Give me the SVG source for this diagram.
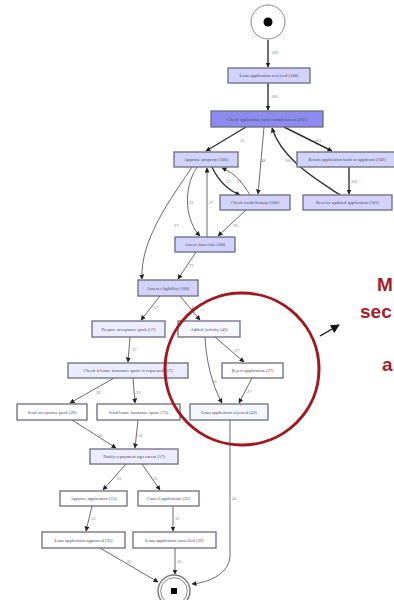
<svg xmlns="http://www.w3.org/2000/svg" width="394" height="600" viewBox="0 0 394 600">
  <defs>
    <marker id="ah" viewBox="0 0 10 10" refX="9" refY="5" markerWidth="5" markerHeight="5" orient="auto" markerUnits="userSpaceOnUse">
      <path d="M0,0 L10,5 L0,10 z" fill="#222"/>
    </marker>
    <marker id="ahBig" viewBox="0 0 10 10" refX="9" refY="5" markerWidth="9" markerHeight="9" orient="auto" markerUnits="userSpaceOnUse">
      <path d="M0,0 L10,5 L0,10 z" fill="#111"/>
    </marker>
    <style>
      .box { stroke: #6c6c80; stroke-width: 1.3; }
      .t { font-family: "Liberation Serif", serif; font-size: 4.6px; fill: #4a4a66; text-anchor: middle; }
      .lbl { font-family: "Liberation Serif", serif; font-size: 4.4px; fill: #777; }
      .e { fill: none; stroke: #5a5a5a; stroke-width: 0.9; marker-end: url(#ah); }
      .ew { fill: none; stroke: #333; stroke-width: 1.4; marker-end: url(#ah); }
      .c1 { fill: #d2d2fa; }
      .c2 { fill: #8c8cf0; }
      .c3 { fill: #ececfe; }
      .c4 { fill: #f6f6ff; }
      .c5 { fill: #ffffff; }
      .callout { font-family: "Liberation Sans", Arial, sans-serif; font-weight: bold; font-size: 19px; fill: #a51d2d; }
    </style>
  </defs>
  <rect width="394" height="600" fill="#ffffff"/>

  <!-- connectors -->
  <g id="edges">
    <path class="ew" d="M268,40 L268,67"/>
    <path class="ew" d="M268,83 L268,110"/>
    <path class="ew" d="M246,127 L206,151"/>
    <path class="e" d="M264,127 L258,194"/>
    <path class="ew" d="M340,195 C318,180 282,160 272,128"/>
    <path class="ew" d="M284,127 L332,151"/>
    <path class="ew" d="M349,167 L349,194"/>
    <path class="ew" d="M212,167 C218,180 228,190 240,195"/>
    <path class="e" d="M250,195 C242,182 236,174 222,168"/>
    <path class="e" d="M197,167 C182,190 186,222 200,236"/>
    <path class="e" d="M207,237 L207,168"/>
    <path class="e" d="M192,167 C170,200 140,240 142,279"/>
    <path class="e" d="M246,210 L218,236"/>
    <path class="e" d="M196,252 L178,279"/>
    <path class="e" d="M160,296 L141,320"/>
    <path class="e" d="M180,296 L200,320"/>
    <path class="e" d="M130,337 L128,362"/>
    <path class="e" d="M215,337 L244,362"/>
    <path class="e" d="M205,337 C206,360 212,385 222,403"/>
    <path class="e" d="M252,378 L239,403"/>
    <path class="e" d="M114,378 L70,403"/>
    <path class="e" d="M133,378 L135,403"/>
    <path class="e" d="M72,420 L116,448"/>
    <path class="e" d="M138,420 L135,448"/>
    <path class="e" d="M126,464 L103,490"/>
    <path class="e" d="M142,464 L160,490"/>
    <path class="e" d="M92,506 L86,531"/>
    <path class="e" d="M173,506 L173,531"/>
    <path class="e" d="M100,548 L158,582"/>
    <path class="e" d="M175,548 L175,574"/>
    <path class="e" d="M230,420 L230,555 C230,572 212,582 192,584"/>
  </g>

  <!-- connector labels -->
  <g id="edge-labels">
    <text class="lbl" x="271" y="54">100</text>
    <text class="lbl" x="271" y="98">100</text>
    <text class="lbl" x="240" y="142">52</text>
    <text class="lbl" x="261" y="162">48</text>
    <text class="lbl" x="285" y="162">101</text>
    <text class="lbl" x="315" y="142">101</text>
    <text class="lbl" x="351" y="183">101</text>
    <text class="lbl" x="226" y="183">52</text>
    <text class="lbl" x="237" y="183">51</text>
    <text class="lbl" x="189" y="204">23</text>
    <text class="lbl" x="209" y="204">27</text>
    <text class="lbl" x="174" y="227">27</text>
    <text class="lbl" x="233" y="227">76</text>
    <text class="lbl" x="189" y="267">73</text>
    <text class="lbl" x="154" y="309">57</text>
    <text class="lbl" x="191" y="309">43</text>
    <text class="lbl" x="132" y="351">57</text>
    <text class="lbl" x="235" y="352">27</text>
    <text class="lbl" x="212" y="383">16</text>
    <text class="lbl" x="247" y="393">27</text>
    <text class="lbl" x="96" y="394">26</text>
    <text class="lbl" x="136" y="394">33</text>
    <text class="lbl" x="98" y="437">26</text>
    <text class="lbl" x="138" y="437">33</text>
    <text class="lbl" x="117" y="480">25</text>
    <text class="lbl" x="153" y="480">32</text>
    <text class="lbl" x="91" y="520">25</text>
    <text class="lbl" x="175" y="520">32</text>
    <text class="lbl" x="127" y="563">25</text>
    <text class="lbl" x="177" y="563">32</text>
    <text class="lbl" x="232" y="500">43</text>
  </g>

  <!-- start and end -->
  <g id="start">
    <circle cx="268" cy="22" r="17" fill="#ffffff" stroke="#8a8a8a" stroke-width="1"/>
    <circle cx="268" cy="22" r="4.5" fill="#000"/>
  </g>
  <g id="end">
    <circle cx="174" cy="591" r="16" fill="#ffffff" stroke="#7a7a7a" stroke-width="1.4"/>
    <circle cx="174" cy="591" r="13.3" fill="none" stroke="#8a8a8a" stroke-width="1"/>
    <rect x="171" y="588" width="6" height="6" fill="#000"/>
  </g>

  <!-- nodes -->
  <g id="n-received"><rect class="box c1" x="228" y="68" width="82" height="15"/><text class="t" x="269" y="77">Loan  application received (100)</text></g>
  <g id="n-check-form"><rect class="box c2" x="211" y="111" width="112" height="16"/><text class="t" x="267" y="120.5">Check  application  form completeness (202)</text></g>
  <g id="n-appraise"><rect class="box c1" x="174" y="152" width="64" height="15"/><text class="t" x="206" y="161">Appraise property (100)</text></g>
  <g id="n-return"><rect class="box c1" x="297" y="152" width="100" height="15"/><text class="t" x="347" y="161">Return application back to applicant (102)</text></g>
  <g id="n-credit"><rect class="box c1" x="220" y="195" width="70" height="15"/><text class="t" x="255" y="204">Check credit history (100)</text></g>
  <g id="n-updated"><rect class="box c1" x="303" y="195" width="89" height="15"/><text class="t" x="347.5" y="204">Receive updated application (101)</text></g>
  <g id="n-loan-risk"><rect class="box c1" x="175" y="237" width="60" height="15"/><text class="t" x="205" y="246">Assess loan risk (100)</text></g>
  <g id="n-eligibility"><rect class="box c1" x="138" y="280" width="60" height="16"/><text class="t" x="168" y="289.5">Assess eligibility (100)</text></g>
  <g id="n-prepare"><rect class="box c3" x="92" y="321" width="73" height="16"/><text class="t" x="128.5" y="330.5">Prepare acceptance pack (57)</text></g>
  <g id="n-added"><rect class="box c4" x="178" y="321" width="62" height="16"/><text class="t" x="209" y="330.5">Added Activity (43)</text></g>
  <g id="n-home-check"><rect class="box c3" x="68" y="363" width="120" height="15"/><text class="t" x="128" y="372">Check if home insurance quote is requested (57)</text></g>
  <g id="n-reject"><rect class="box c5" x="222" y="363" width="61" height="15"/><text class="t" x="252.5" y="372">Reject application (27)</text></g>
  <g id="n-send-pack"><rect class="box c5" x="17" y="404" width="70" height="16"/><text class="t" x="52" y="413.5">Send acceptance pack (26)</text></g>
  <g id="n-send-quote"><rect class="box c5" x="97" y="404" width="83" height="16"/><text class="t" x="138.5" y="413.5">Send home insurance quote (75)</text></g>
  <g id="n-rejected"><rect class="box c4" x="190" y="404" width="78" height="16"/><text class="t" x="229" y="413.5">Loan application rejected (43)</text></g>
  <g id="n-notify"><rect class="box c3" x="90" y="449" width="88" height="15"/><text class="t" x="134" y="458">Notify repayment agreement (57)</text></g>
  <g id="n-approve"><rect class="box c5" x="60" y="491" width="67" height="15"/><text class="t" x="93.5" y="500">Approve application (25)</text></g>
  <g id="n-cancel"><rect class="box c5" x="138" y="491" width="61" height="15"/><text class="t" x="168.5" y="500">Cancel application (32)</text></g>
  <g id="n-approved"><rect class="box c5" x="42" y="532" width="83" height="16"/><text class="t" x="83.5" y="541.5">Loan application approved (25)</text></g>
  <g id="n-cancelled"><rect class="box c5" x="133" y="532" width="83" height="16"/><text class="t" x="174.5" y="541.5">Loan application cancelled (32)</text></g>

  <!-- highlight ring and pointer -->
  <g id="highlight">
    <ellipse cx="242" cy="369" rx="77" ry="76" fill="none" stroke="#a3161f" stroke-width="3"/>
    <path d="M320,336 L339,325" fill="none" stroke="#111" stroke-width="1.4" marker-end="url(#ahBig)"/>
    <text class="callout" x="377" y="291">M</text>
    <text class="callout" x="360" y="318">sec</text>
    <text class="callout" x="382" y="371">a</text>
  </g>
</svg>
